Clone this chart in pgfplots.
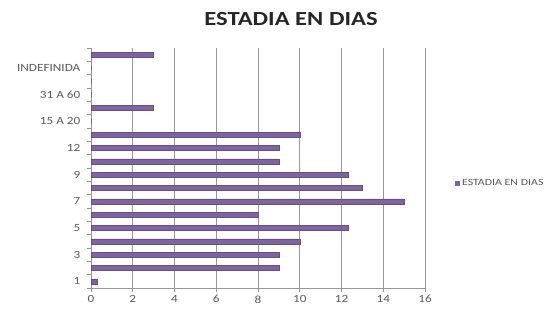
\documentclass[border=0pt]{standalone}
\usepackage{pgfplots}
\pgfplotsset{compat=1.18}
\usepackage{fontspec}
\setmainfont{Carlito}
\definecolor{barc}{RGB}{128,100,162}
\definecolor{gridc}{RGB}{150,150,150}
\definecolor{labc}{RGB}{89,89,89}
\pgfplotstableread{
y x
0 0.3
1 9
2 9
3 10
4 12.3
5 8
6 15
7 13
8 12.3
9 9
10 9
11 10
12 0
13 3
14 0
15 0
16 0
17 3
}\datatable
\begin{document}
\begin{tikzpicture}[x=1pt,y=1pt]
\path[use as bounding box] (0,0) rectangle (554,313);
\node[font=\bfseries\fontsize{20}{22}\selectfont, text=black!85, xscale=1.23] at (291,294) {ESTADIA EN DIAS};
\begin{axis}[
  at={(91pt,25pt)}, anchor=south west,
  scale only axis, width=334pt, height=240pt,
  xbar, bar width=5pt,
  xmin=0, xmax=16, ymin=-0.5, ymax=17.5,
  xtick={0,2,...,16},
  ytick={0,2,...,16},
  yticklabels={1,3,5,7,9,12,15 A 20,31 A 60,INDEFINIDA},
  y tick style={draw=none},
  extra y ticks={-0.5,0.5,...,17.5},
  extra y tick labels={},
  extra y tick style={y tick style={draw=gridc, line width=0.6pt}, major tick length=4pt, tick align=outside},
  xmajorgrids, major grid style={gridc, line width=0.6pt},
  axis x line*=bottom, axis y line*=left,
  axis line style={gridc, line width=0.6pt},
  x axis line style={-}, y axis line style={-},
  tick align=outside,
  major tick length=4pt,
  x tick style={gridc, line width=0.6pt},
  tick label style={font=\fontsize{11}{12}\selectfont, text=labc, xscale=1.2},
  /pgf/number format/assume math mode=true,
  yticklabel style={xshift=-2pt},
  legend style={at={(1.09,0.4375)}, anchor=west, draw=none, fill=none,
    font=\fontsize{9.5}{10}\selectfont, text=labc, inner sep=0pt,
    nodes={xscale=1.25}},
  legend image code/.code={\fill[barc] (0pt,-2pt) rectangle (4pt,2pt);},
]
\addplot[fill=barc, draw=barc!80!black, line width=0.3pt] table[x=x, y=y] {\datatable};
\addlegendentry{ESTADIA EN DIAS}
\end{axis}
\end{tikzpicture}
\end{document}
